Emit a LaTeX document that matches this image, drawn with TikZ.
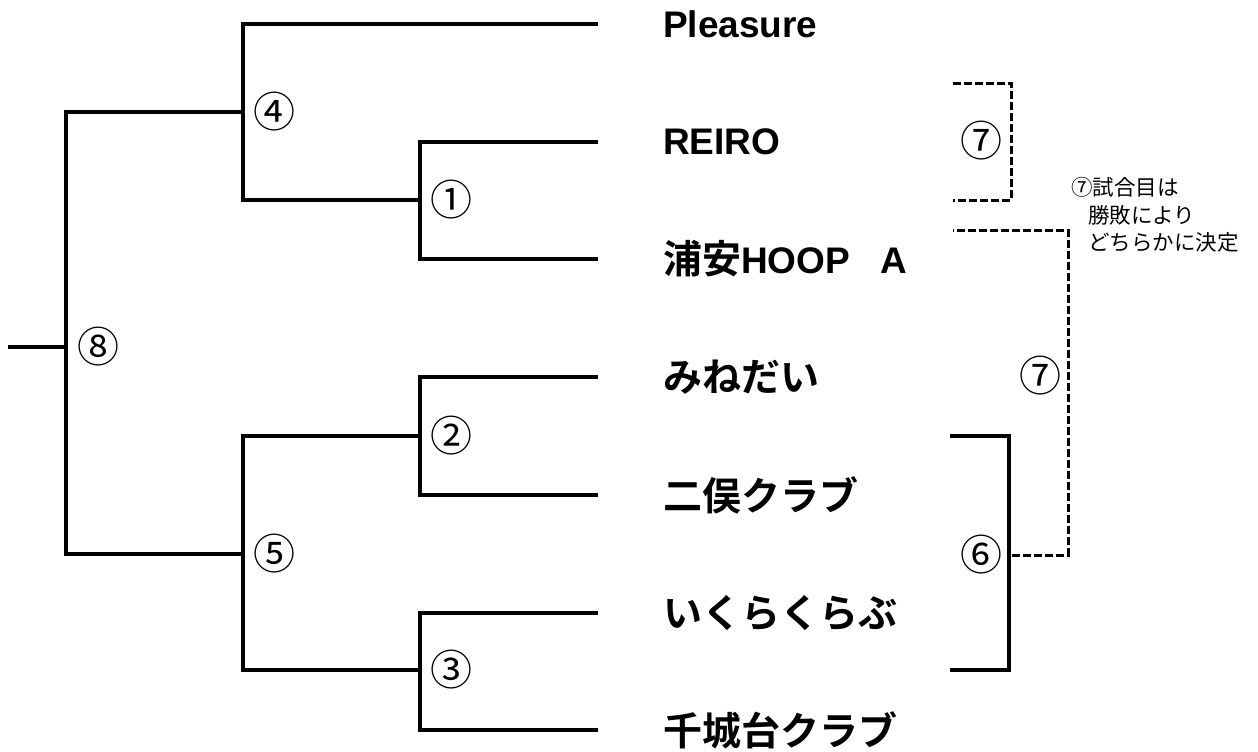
\documentclass[tikz,border=0pt]{standalone}
\usepackage{fontspec}
\setmainfont{Liberation Sans}
\newfontfamily\jp{Noto Sans CJK JP}
\newfontfamily\jpb{Noto Sans CJK JP Bold}
\newfontfamily\latb{Liberation Sans Bold}
\begin{document}
\begin{tikzpicture}[x=1pt,y=-1pt,
  ln/.style={line width=3.2pt, line join=miter},
  dsh/.style={line width=3pt, dash pattern=on 8pt off 3pt},
  team/.style={anchor=west, inner sep=0pt},
  tl/.style={font=\latb\fontsize{37}{37}\selectfont},
  tj/.style={font=\jpb\fontsize{39}{39}\selectfont},
  num/.style={inner sep=0pt, font=\jp\fontsize{42}{42}\selectfont},
  note/.style={anchor=west, inner sep=0pt, align=left, font=\jp\fontsize{21.5}{27.5}\selectfont}]
\useasboundingbox (0,0) rectangle (1258,752);
% right ends of team lines
\coordinate (r1) at (598,24);
\coordinate (r2) at (598,142);
\coordinate (r3) at (598,259);
\coordinate (r4) at (598,377);
\coordinate (r5) at (598,495);
\coordinate (r6) at (598,613);
\coordinate (r7) at (598,730);
% match points
\coordinate (m1) at (420,200);
\coordinate (m2) at (420,436);
\coordinate (m3) at (420,670);
\coordinate (m4) at (243,112);
\coordinate (m5) at (243,554);
\coordinate (m8) at (66,347);
\coordinate (s8) at (8,347);
% bracket lines
\draw[ln] (r2) -| (m1) |- (r3);
\draw[ln] (r4) -| (m2) |- (r5);
\draw[ln] (r6) -| (m3) |- (r7);
\draw[ln] (r1) -| (m4);
\draw[ln] (m1) -| (m4);
\draw[ln] (m2) -| (m5);
\draw[ln] (m3) -| (m5);
\draw[ln] (m4) -| (m8);
\draw[ln] (m5) -| (m8);
\draw[ln] (m8) -- (s8);
% match numbers
\node[num] (n4) at (274,112) {④};
\node[num] (n1) at (451,200) {①};
\node[num] (n2) at (451,436) {②};
\node[num] (n5) at (274,554) {⑤};
\node[num] (n3) at (451,670) {③};
\node[num] (n8) at (98,347) {⑧};
% teams
\node[team,tl] (t1) at (663,24) {Pleasure};
\node[team,tl] (t2) at (663,142) {REIRO};
\node[team] (t3) at (663,259) {{\jpb\fontsize{39}{39}\selectfont 浦安}{\latb\fontsize{37}{37}\selectfont HOOP}\hspace{30pt}{\latb\fontsize{37}{37}\selectfont A}};
\node[team,tj] (t4) at (663,377) {みねだい};
\node[team,tj] (t5) at (663,495) {二俣クラブ};
\node[team,tj] (t6) at (663,613) {いくらくらぶ};
\node[team,tj] (t7) at (663,730) {千城台クラブ};
% match 6 bracket
\coordinate (g6a) at (950,436);
\coordinate (g6) at (1009,555);
\coordinate (g6b) at (950,670);
\draw[ln] (g6a) -| (g6) |- (g6b);
\node[num] (n6) at (981,555) {⑥};
% match 7 dashed brackets
\coordinate (d1a) at (953,83);
\coordinate (k7t) at (1011,141);
\coordinate (d1b) at (953,200);
\draw[dsh] (d1a) -| (k7t) |- (d1b);
\node[num] (n7a) at (981,141) {⑦};
\coordinate (d2s) at (1012,555);
\coordinate (k7b) at (1068,392);
\coordinate (d2e) at (953,230);
\draw[dsh] (d2s) -| (k7b) |- (d2e);
\node[num] (n7b) at (1040,376) {⑦};
% note
\node[note] (nt) at (1071,215) {⑦試合目は\\\hspace*{17pt}勝敗により\\\hspace*{17pt}どちらかに決定};
\end{tikzpicture}
\end{document}
